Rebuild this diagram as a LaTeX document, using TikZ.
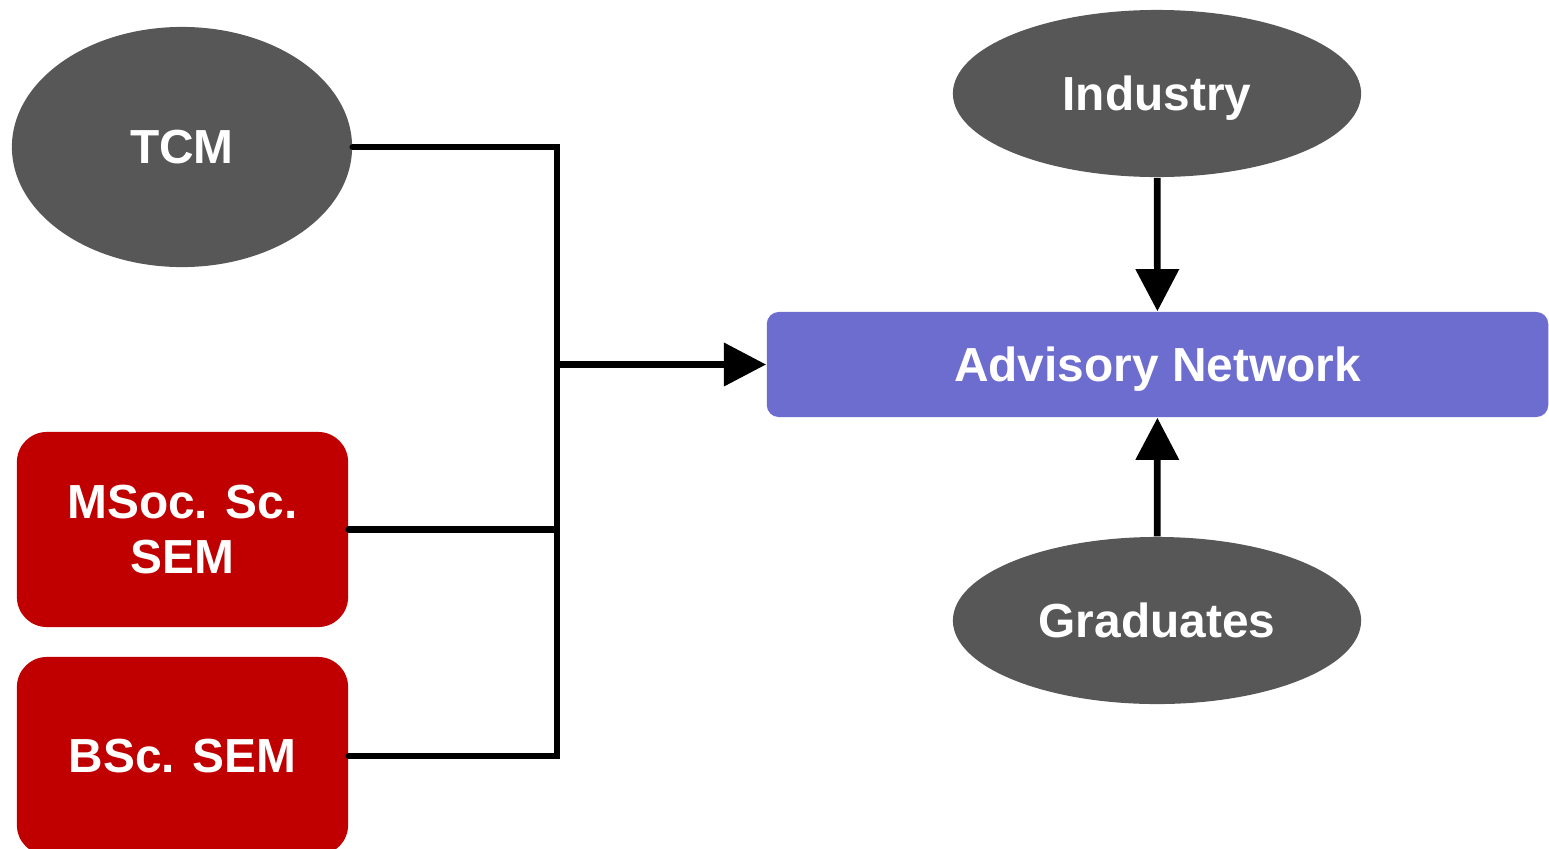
\documentclass[tikz,border=0pt]{standalone}
\usepackage{fontspec}
\setmainfont{Liberation Sans}
\usepackage{xcolor}
\definecolor{mygrey}{RGB}{87,87,87}
\definecolor{myred}{RGB}{192,0,0}
\definecolor{myblue}{RGB}{109,109,207}
\usepackage{tikz}
\usetikzlibrary{shapes.geometric}
\usetikzlibrary{arrows.meta}
\tikzset{
    common/.style={text=white, font=\bfseries\fontsize{13.6}{15.8}\selectfont, align=center, inner sep=0pt, text depth=0pt},
    oval/.style={common, ellipse, fill=mygrey},
    course/.style={common, rectangle, fill=myred, rounded corners=0.3cm, minimum width=3.31cm, minimum height=1.95cm},
    network/.style={common, rectangle, fill=myblue, rounded corners=0.12cm, minimum width=7.81cm, minimum height=1.05cm},
    link/.style={line width=1.9pt, line cap=round},
    feed/.style={link, -{Triangle[length=12pt, width=12pt]}, line cap=butt}
}
\begin{document}
\begin{tikzpicture}[x=0.01cm, y=-0.01cm]
    \useasboundingbox (0,0) rectangle (1549,848);

    \node[oval, minimum width=3.40cm, minimum height=2.40cm] (tcm) at (182,147) {TCM};
    \node[course] (msoc) at (182.5,529.5) {MSoc. Sc.\\SEM};
    \node[course, minimum height=1.98cm] (bsc) at (182.5,756) {BSc. SEM};

    \node[network] (adv) at (1157.5,364.5) {Advisory Network};
    \node[oval, minimum width=4.08cm, minimum height=1.67cm] (ind) at (1157,93.5) {Industry};
    \node[oval, minimum width=4.08cm, minimum height=1.67cm] (grad) at (1157,620.5) {Graduates};

    \coordinate (join) at (557,364.5);

    \draw[link] (tcm.east) -| (join);
    \draw[link] (msoc.east) -| (join);
    \draw[link] (bsc.east) -| (join);
    \draw[feed] (join) -- (adv.west);

    \draw[feed] (ind) -- (adv);
    \draw[feed] (grad) -- (adv);
\end{tikzpicture}
\end{document}
